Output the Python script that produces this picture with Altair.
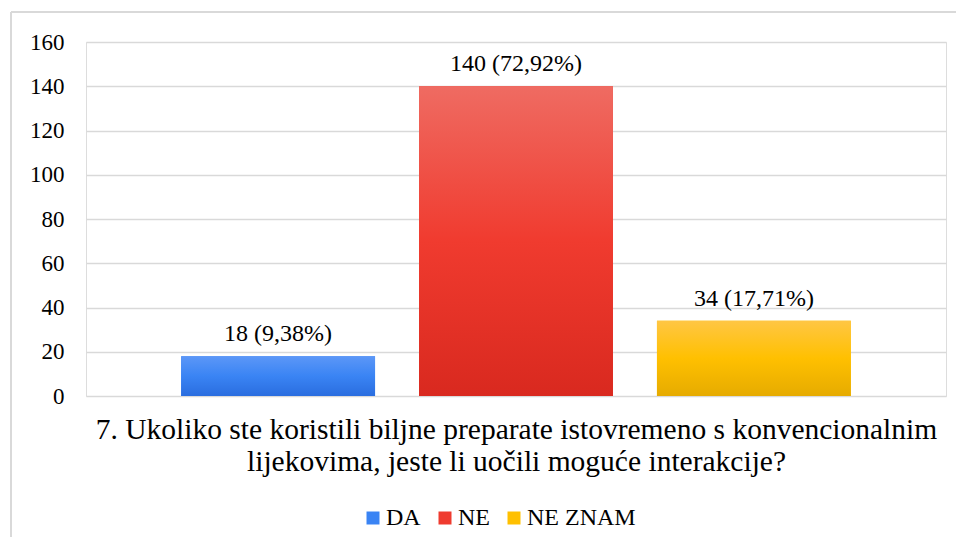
import altair as alt
import pandas as pd

categories = ["DA", "NE", "NE ZNAM"]
counts = [18, 140, 34]
value_labels = ["18 (9,38%)", "140 (72,92%)", "34 (17,71%)"]
y_ticks = [0, 20, 40, 60, 80, 100, 120, 140, 160]
title_lines = [
    "7. Ukoliko ste koristili biljne preparate istovremeno s konvencionalnim",
    "lijekovima, jeste li uočili moguće interakcije?",
]

solid_colors = ["#3a84f4", "#ef3b2f", "#ffc000"]
gradient_stops = [
    ["#5c97f7", "#3a84f4", "#2a6ddf"],
    ["#ef6b62", "#f03b2f", "#d9291f"],
    ["#ffc644", "#ffc000", "#e6ab00"],
]

FONT = "Liberation Serif"
GRID = "#d9d9d9"

df = pd.DataFrame({"cat": categories, "count": counts, "label": value_labels})

x_enc = alt.X(
    "cat:N",
    sort=categories,
    scale=alt.Scale(domain=categories, paddingInner=0.185, paddingOuter=0.4),
    axis=alt.Axis(
        labels=False, ticks=False, domain=False, grid=False,
        title=title_lines, titleFont=FONT, titleFontSize=29.5, titleFontWeight="normal",
        titleColor="#000000", titlePadding=19, titleLineHeight=32,
    ),
)
y_enc = alt.Y(
    "count:Q",
    scale=alt.Scale(domain=[0, 160], nice=False),
    axis=alt.Axis(
        values=y_ticks, title=None, ticks=False, domain=False,
        labelFont=FONT, labelFontSize=23, labelColor="#000000", labelPadding=22,
        grid=True, gridColor=GRID, gridWidth=1.5,
    ),
)

base = alt.Chart(df).encode(x=x_enc, y=y_enc)

legend_layer = base.mark_bar().encode(
    color=alt.Color(
        "cat:N",
        scale=alt.Scale(domain=categories, range=solid_colors),
        legend=alt.Legend(
            title=None, orient="none", direction="horizontal",
            legendX=275, legendY=464, padding=0,
            symbolType="square", symbolSize=169, symbolStrokeWidth=0,
            labelFont=FONT, labelFontSize=24, labelColor="#000000",
            labelOffset=1, columnPadding=12,
        ),
    )
)

grad_layers = []
for cat, stops in zip(categories, gradient_stops):
    grad = alt.Gradient(
        gradient="linear", x1=0, x2=0, y1=0, y2=1,
        stops=[
            alt.GradientStop(offset=0, color=stops[0]),
            alt.GradientStop(offset=0.5, color=stops[1]),
            alt.GradientStop(offset=1, color=stops[2]),
        ],
    )
    grad_layers.append(
        base.transform_filter(alt.datum.cat == cat).mark_bar(color=grad)
    )

text_layer = base.mark_text(
    baseline="alphabetic", dy=-15, font=FONT, fontSize=24, color="#000000"
).encode(text="label:N")

frame_df = pd.DataFrame({"k": [0]})
left_border = alt.Chart(frame_df).mark_rule(color=GRID, strokeWidth=2).encode(
    x=alt.value(-75), y=alt.value(-30), y2=alt.value(510)
)
top_border = alt.Chart(frame_df).mark_rule(color=GRID, strokeWidth=2).encode(
    x=alt.value(-75), x2=alt.value(880), y=alt.value(-30)
)

chart = alt.layer(
    left_border, top_border, legend_layer, *grad_layers, text_layer
).properties(
    width=860, height=354,
    autosize=alt.AutoSizeParams(type="none"),
    padding={"left": 78, "top": 34, "right": 10, "bottom": 141},
).configure_view(stroke=None).configure(background="#ffffff")

chart.save("out.html", embed_options={"renderer": "svg", "actions": False})
